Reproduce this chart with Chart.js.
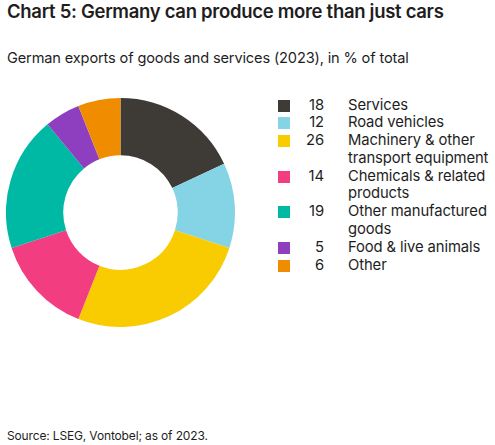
<!DOCTYPE html>
<html>
<head>
<meta charset="utf-8">
<script src="https://cdn.jsdelivr.net/npm/chart.js@4"></script>
<style>
  body { margin: 0; background: #fff; font-family: Inter, "Liberation Sans", sans-serif; color: #1e1e1e; }
  #wrap { position: relative; width: 495px; height: 445px; overflow: hidden; }
  #title { position: absolute; left: 7px; top: 0px; font-size: 18.5px; font-weight: 600; letter-spacing: -0.3px; }
  #subtitle { position: absolute; left: 7px; top: 49px; font-size: 14.6px; letter-spacing: -0.15px; }
  #source { position: absolute; left: 7px; top: 428px; font-size: 12px; letter-spacing: -0.15px; }
  #chartBox { position: absolute; left: 6px; top: 98px; width: 229px; height: 229px; }
  #legend { position: absolute; left: 278px; top: 96.5px; font-size: 14.8px; line-height: 17.8px; letter-spacing: -0.1px; }
  .row { display: flex; align-items: flex-start; }
  .sw { width: 12px; height: 12px; margin-top: 3px; flex: none; }
  .num { width: 34px; text-align: right; flex: none; }
  .lab { margin-left: 24px; width: 152px; }
</style>
</head>
<body>
<div id="wrap">
  <div id="title">Chart 5: Germany can produce more than just cars</div>
  <div id="subtitle">German exports of goods and services (2023), in % of total</div>
  <div id="chartBox"><canvas id="donut"></canvas></div>
  <div id="legend"></div>
  <div id="source">Source: LSEG, Vontobel; as of 2023.</div>
</div>
<script>
let categories = ["Services", "Road vehicles", "Machinery & other transport equipment", "Chemicals & related products", "Other manufactured goods", "Food & live animals", "Other"];
let shares = [18, 12, 26, 14, 19, 5, 6];
let colors = ["#3e3a36", "#85d4e6", "#f8cc00", "#f23d80", "#00b9a5", "#8e3fc0", "#f08c00"];

let legendBox = document.getElementById("legend");
categories.forEach(function (name, i) {
  let row = document.createElement("div");
  row.className = "row";
  row.innerHTML = '<div class="sw" style="background:' + colors[i] + '"></div>' +
    '<div class="num">' + shares[i] + '</div>' +
    '<div class="lab">' + name.replace(/&/g, "&amp;") + '</div>';
  legendBox.appendChild(row);
});

new Chart(document.getElementById("donut"), {
  type: "doughnut",
  data: {
    labels: categories,
    datasets: [{
      data: shares,
      backgroundColor: colors,
      borderWidth: 0
    }]
  },
  options: {
    responsive: true,
    maintainAspectRatio: false,
    animation: false,
    cutout: "50%",
    layout: { padding: 0 },
    plugins: {
      legend: { display: false },
      tooltip: { enabled: false }
    }
  }
});
</script>
</body>
</html>
